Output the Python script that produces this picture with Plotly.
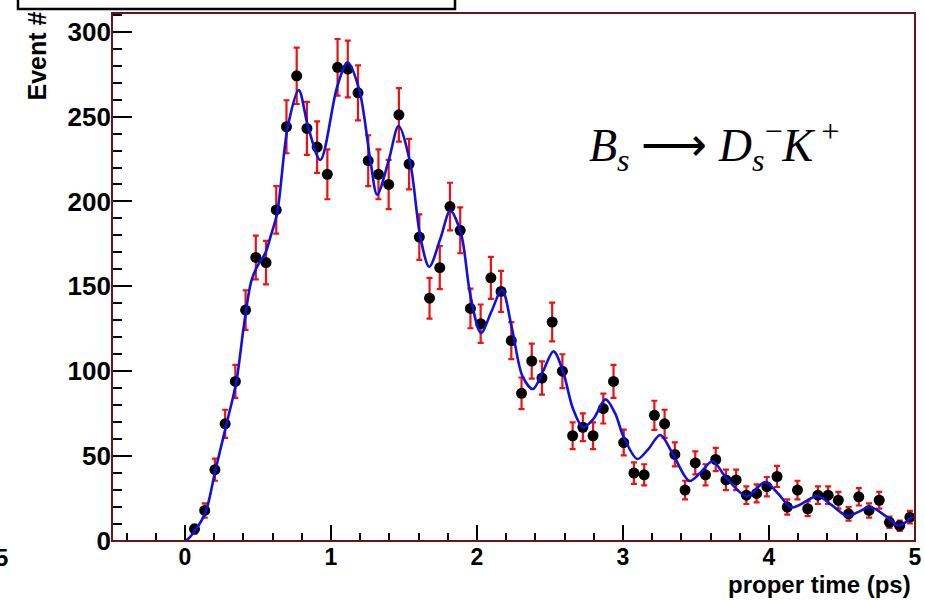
import plotly.graph_objects as go

# ---- data ----
t_bins = [0.065, 0.135, 0.205, 0.275, 0.345, 0.415, 0.485, 0.555, 0.625, 0.695,
          0.765, 0.835, 0.905, 0.975, 1.045, 1.115, 1.185, 1.255, 1.325, 1.395,
          1.465, 1.535, 1.605, 1.675, 1.745, 1.815, 1.885, 1.955, 2.025, 2.095,
          2.165, 2.235, 2.305, 2.375, 2.445, 2.515, 2.585, 2.655, 2.725, 2.795,
          2.865, 2.935, 3.005, 3.075, 3.145, 3.215, 3.285, 3.355, 3.425, 3.495,
          3.565, 3.635, 3.705, 3.775, 3.845, 3.915, 3.985, 4.055, 4.125, 4.195,
          4.265, 4.335, 4.405, 4.475, 4.545, 4.615, 4.685, 4.755, 4.825, 4.895,
          4.965]
counts = [7, 18, 42, 69, 94, 136, 167, 164, 195, 244,
          274, 243, 232, 216, 279, 278, 264, 224, 216, 210,
          251, 222, 179, 143, 161, 197, 183, 137, 128, 155,
          147, 118, 87, 106, 96, 129, 100, 62, 67, 62,
          78, 94, 58, 40, 39, 74, 69, 51, 30, 46,
          39, 48, 36, 36, 27, 28, 32, 38, 20, 30,
          19, 27, 27, 24, 16, 26, 18, 24, 11, 9,
          14]
errors = [2.6, 4.2, 6.5, 8.3, 9.7, 11.7, 12.9, 12.8, 14.0, 15.6,
          16.6, 15.6, 15.2, 14.7, 16.7, 16.7, 16.2, 15.0, 14.7, 14.5,
          15.8, 14.9, 13.4, 12.0, 12.7, 14.0, 13.5, 11.7, 11.3, 12.4,
          12.1, 10.9, 9.3, 10.3, 9.8, 11.4, 10.0, 7.9, 8.2, 7.9,
          8.8, 9.7, 7.6, 6.3, 6.2, 8.6, 8.3, 7.1, 5.5, 6.8,
          6.2, 6.9, 6.0, 6.0, 5.2, 5.3, 5.7, 6.2, 4.5, 5.5,
          4.4, 5.2, 5.2, 4.9, 4.0, 5.1, 4.2, 4.9, 3.3, 3.0,
          3.7]

fit_t = [-0.5, 0.0, 0.065, 0.140, 0.209, 0.289, 0.352, 0.402, 0.453, 0.494,
         0.551, 0.585, 0.631, 0.704, 0.779, 0.843, 0.927, 1.042, 1.114, 1.194,
         1.270, 1.316, 1.395, 1.463, 1.543, 1.612, 1.673, 1.749, 1.817, 1.890,
         1.954, 2.027, 2.098, 2.171, 2.240, 2.312, 2.383, 2.452, 2.524, 2.589,
         2.657, 2.726, 2.798, 2.880, 2.947, 3.001, 3.099, 3.172, 3.255, 3.337,
         3.455, 3.528, 3.614, 3.700, 3.848, 3.973, 4.062, 4.155, 4.334, 4.432,
         4.535, 4.610, 4.692, 4.795, 4.889, 4.986]
fit_y = [0, 0, 5.8, 16.8, 42, 70.5, 94, 126, 152.8, 161.6,
         169.7, 179, 193, 244, 265.6, 244, 224.4, 267.5, 282, 265.6,
         224, 204, 224, 244.4, 222.5, 179, 161.5, 178, 194.5, 181.3,
         145, 122.5, 135, 148, 125, 97, 89.5, 100, 111.7, 100,
         78, 67, 72, 83.4, 75, 62, 48.3, 54, 62.4, 52,
         35.4, 40, 47, 38, 26.4, 34.7, 28, 19.8, 26.4, 21,
         14.6, 17, 20, 15, 9.2, 14.6]

x_ticks = [0, 1, 2, 3, 4, 5]
y_ticks = [0, 50, 100, 150, 200, 250, 300]

fig = go.Figure()

fig.add_trace(go.Scatter(
    x=t_bins, y=counts, mode="markers",
    marker=dict(color="black", size=11, symbol="circle"),
    error_y=dict(type="data", array=errors, visible=True,
                 color="#ee1111", thickness=2.2, width=3),
    showlegend=False, cliponaxis=True,
))

fig.add_trace(go.Scatter(
    x=fit_t, y=fit_y, mode="lines",
    line=dict(color="#1010e0", width=2.6, shape="spline", smoothing=0.9),
    showlegend=False,
))

L, R, T, B = 112, 10, 13, 59
W, H = 925, 600
pw, ph = W - L - R, H - T - B

SANS = "Liberation Sans, Arial, sans-serif"

fig.update_xaxes(
    range=[-0.5, 5.0], tickvals=x_ticks, ticktext=[f"<b>{v}</b>" for v in x_ticks],
    ticks="inside", ticklen=16, tickwidth=2, tickcolor="black",
    minor=dict(ticks="inside", ticklen=8, tickwidth=1.5, tickcolor="black",
               dtick=0.2, tick0=0),
    showgrid=False, zeroline=False, showline=False,
    tickfont=dict(family=SANS, size=23, color="black"),
)
fig.update_yaxes(
    range=[0, 311], tickvals=y_ticks, ticktext=[f"<b>{v}</b>" for v in y_ticks],
    ticks="inside", ticklen=20, tickwidth=2, tickcolor="black",
    minor=dict(ticks="inside", ticklen=10, tickwidth=1.5, tickcolor="black",
               dtick=10, tick0=0),
    showgrid=False, zeroline=False, showline=False,
    tickfont=dict(family=SANS, size=26, color="black"),
)

def py(pix):
    """pixel row -> paper y"""
    return (H - B - pix) / ph

def px(pix):
    """pixel column -> paper x"""
    return (pix - L) / pw

shapes = [
    # plot frame
    dict(type="rect", xref="paper", yref="paper", x0=0, x1=1, y0=0, y1=1,
         line=dict(color="#6e1414", width=2), fillcolor="rgba(0,0,0,0)", layer="above"),
    # clipped title box at the top
    dict(type="rect", xref="paper", yref="paper",
         x0=px(18), x1=px(455), y0=py(9), y1=py(-30),
         line=dict(color="black", width=2.5), fillcolor="white"),
]

annotations = [
    dict(text="<b>Event #</b>", textangle=-90, xref="paper", yref="paper",
         x=px(36), y=py(10), xanchor="center", yanchor="top",
         showarrow=False, font=dict(family=SANS, size=25, color="black")),
    dict(text="<b>proper time (ps)</b>", xref="paper", yref="paper",
         x=px(913), y=py(600), xanchor="right", yanchor="bottom",
         showarrow=False, font=dict(family=SANS, size=24, color="black")),
    dict(text="<i>B</i><sub><i>s</i></sub> ⟶ <i>D</i><sub><i>s</i></sub><sup>−</sup><i>K</i><sup> +</sup>",
         xref="paper", yref="paper",
         x=px(587), y=py(145), xanchor="left", yanchor="middle",
         showarrow=False, font=dict(family="Liberation Serif, Times New Roman, serif", size=46, color="black")),
    dict(text="<b>5</b>", xref="paper", yref="paper",
         x=px(1), y=py(557), xanchor="center", yanchor="middle",
         showarrow=False, font=dict(family=SANS, size=24, color="black")),
]

fig.update_layout(
    width=W, height=H,
    margin=dict(l=L, r=R, t=T, b=B, autoexpand=False),
    paper_bgcolor="white", plot_bgcolor="white",
    shapes=shapes, annotations=annotations,
    showlegend=False,
)

fig.write_html("out.html")
